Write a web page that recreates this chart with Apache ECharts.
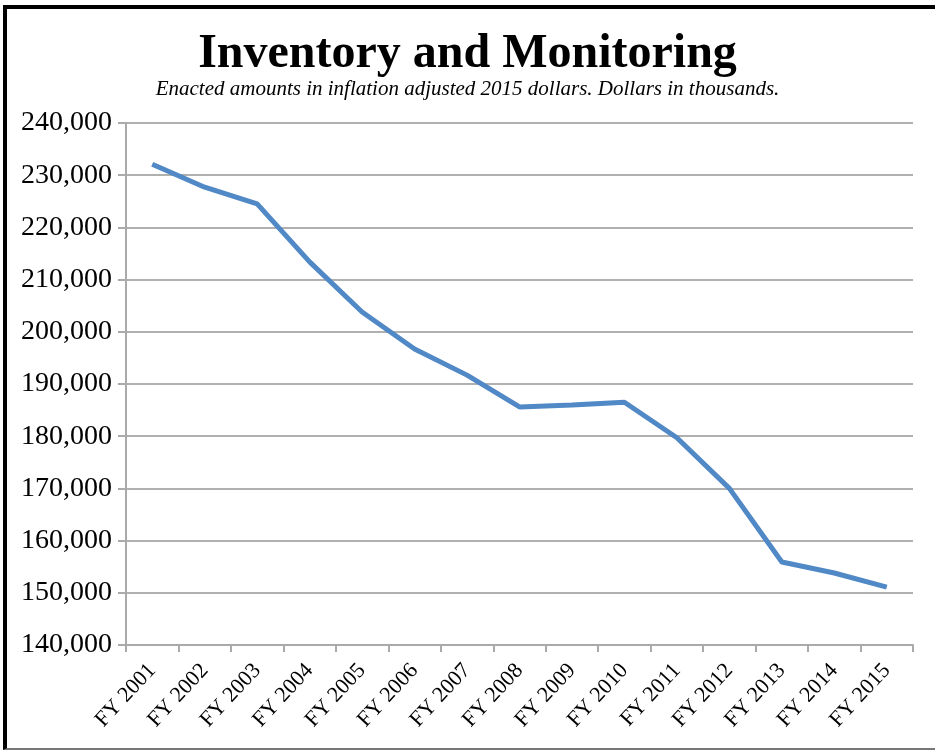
<!DOCTYPE html>
<html>
<head>
<meta charset="utf-8">
<script src="https://cdn.jsdelivr.net/npm/echarts@6/dist/echarts.min.js"></script>
<style>
  html, body { margin: 0; padding: 0; background: #fff; }
  #frame {
    position: absolute; left: 3px; top: 5px; width: 940px; height: 739px;
    border-top: 4px solid #000; border-left: 4px solid #000; border-bottom: 2px solid #777;
  }
  #main { position: absolute; left: 0; top: 0; width: 935px; height: 750px; }
</style>
</head>
<body>
<div id="frame"></div>
<div id="main"></div>
<script>
var years = ['FY 2001', 'FY 2002', 'FY 2003', 'FY 2004', 'FY 2005', 'FY 2006', 'FY 2007', 'FY 2008',
             'FY 2009', 'FY 2010', 'FY 2011', 'FY 2012', 'FY 2013', 'FY 2014', 'FY 2015'];
// enacted amounts, thousands of 2015 dollars
var amounts = [232100, 227700, 224500, 213400, 203800, 196700, 191700, 185600,
               186000, 186500, 179700, 170000, 155900, 153800, 151100];

var myChart = echarts.init(document.getElementById('main'));

var option = {
    title: {
        text: 'Inventory and Monitoring',
        subtext: 'Enacted amounts in inflation adjusted 2015 dollars. Dollars in thousands.',
        left: 'center',
        top: 26,
        itemGap: 0,
        textStyle: {
            fontFamily: 'Liberation Serif',
            fontSize: 48,
            fontWeight: 'bold',
            color: '#000'
        },
        subtextStyle: {
            fontFamily: 'Liberation Serif',
            fontSize: 21,
            fontStyle: 'italic',
            color: '#000'
        }
    },
    grid: {
        left: 126,
        right: 22,
        top: 123,
        bottom: 105
    },
    xAxis: {
        type: 'category',
        data: years,
        boundaryGap: true,
        axisLine: { lineStyle: { color: '#aaa', width: 2 } },
        axisTick: { show: true, length: 7, lineStyle: { color: '#aaa', width: 2 } },
        axisLabel: {
            rotate: 47,
            margin: 22,
            interval: 0,
            fontFamily: 'Liberation Serif',
            fontSize: 22,
            color: '#000'
        }
    },
    yAxis: {
        type: 'value',
        min: 140000,
        max: 240000,
        interval: 10000,
        axisLine: { show: true, lineStyle: { color: '#aaa', width: 2 } },
        axisTick: { show: true, length: 8, lineStyle: { color: '#aaa', width: 2 } },
        splitLine: { lineStyle: { color: '#b0b0b0', width: 2 } },
        axisLabel: {
            margin: 14,
            fontFamily: 'Liberation Serif',
            fontSize: 28,
            color: '#000',
            formatter: function (v) { return v.toLocaleString('en-US'); }
        }
    },
    series: [{
        type: 'line',
        data: amounts,
        symbol: 'none',
        lineStyle: { color: '#5189c6', width: 5 }
    }]
};
myChart.setOption(option);
</script>
</body>
</html>
